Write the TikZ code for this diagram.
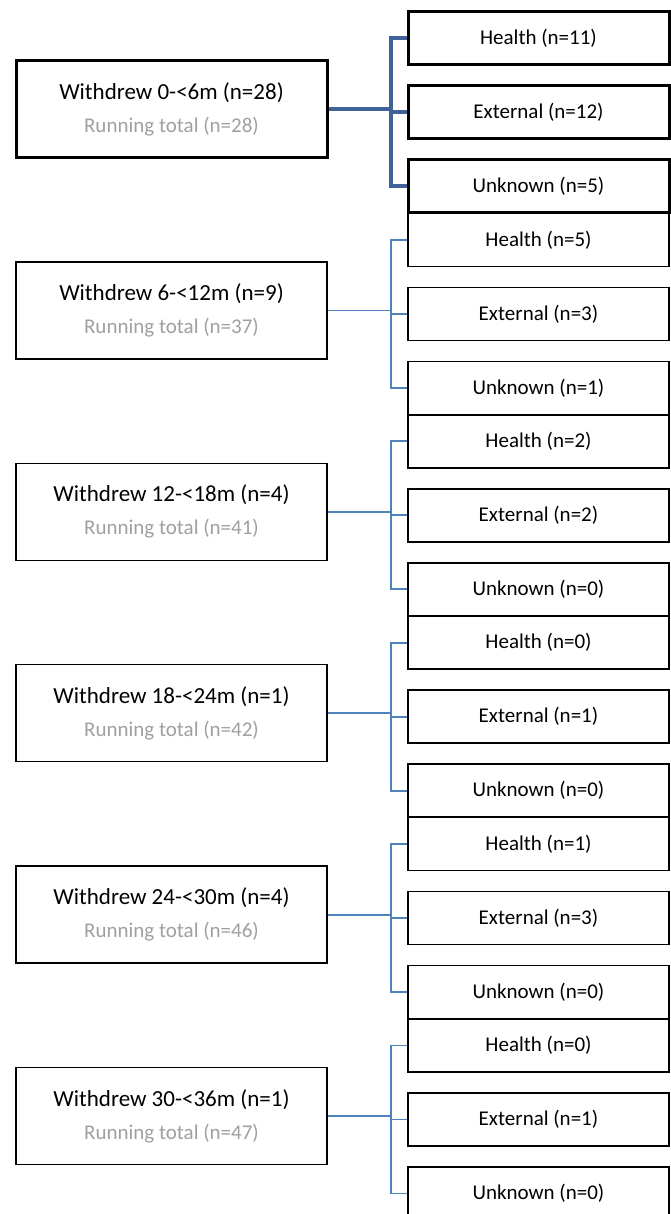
\documentclass[tikz,border=0pt]{standalone}
\usepackage{fontspec}
\setmainfont{Carlito}
\definecolor{linkdark}{HTML}{3F6399}
\definecolor{linkblue}{HTML}{4F81BD}
\definecolor{runninggray}{HTML}{A0A0A0}
\tikzset{
  leftbox/.style={draw=black, line width=1.5pt, fill=white, minimum width=311pt, minimum height=97pt, inner sep=0pt, align=center, font=\fontsize{23}{33}\selectfont},
  rightbox/.style={draw=black, line width=1.5pt, fill=white, minimum width=261pt, minimum height=53pt, inner sep=0pt, font=\fontsize{21}{24}\selectfont},
  heavy/.style={line width=3pt},
  link/.style={draw=linkblue, line width=1.8pt},
  heavylink/.style={draw=linkdark, line width=4pt},
}
\newcommand{\rtotal}[1]{{\fontsize{21}{33}\selectfont\color{runninggray}Running total (n=#1)}}
\begin{document}
\begin{tikzpicture}[x=1pt,y=-1pt]
\useasboundingbox (0,0) rectangle (671,1214);
\clip (0,0) rectangle (671,1214);
% group 1
\node[leftbox,heavy] (L1) at (171.5,109) {Withdrew 0-<6m (n=28)\\\rtotal{28}};
\node[rightbox,heavy] (H1) at (538.5,38.5) {Health (n=11)};
\node[rightbox,heavy] (E1) at (538.5,112.5) {External (n=12)};
\node[rightbox,heavy] (U1) at (538.5,186.5) {Unknown (n=5)};
\coordinate (J1) at (391,109);
\draw[heavylink] (L1.east) -- (J1);
\draw[heavylink] (H1.west) -| (J1) |- (U1.west);
\draw[heavylink] (J1 |- E1.west) -- (E1.west);
% group 2
\node[leftbox] (L2) at (171.5,310.4) {Withdrew 6-<12m (n=9)\\\rtotal{37}};
\node[rightbox] (H2) at (538.5,239.9) {Health (n=5)};
\node[rightbox] (E2) at (538.5,313.9) {External (n=3)};
\node[rightbox] (U2) at (538.5,387.9) {Unknown (n=1)};
\coordinate (J2) at (391,310.4);
\draw[link] (L2.east) -- (J2);
\draw[link] (H2.west) -| (J2) |- (U2.west);
\draw[link] (J2 |- E2.west) -- (E2.west);
% group 3
\node[leftbox] (L3) at (171.5,511.8) {Withdrew 12-<18m (n=4)\\\rtotal{41}};
\node[rightbox] (H3) at (538.5,441.3) {Health (n=2)};
\node[rightbox] (E3) at (538.5,515.3) {External (n=2)};
\node[rightbox] (U3) at (538.5,589.3) {Unknown (n=0)};
\coordinate (J3) at (391,511.8);
\draw[link] (L3.east) -- (J3);
\draw[link] (H3.west) -| (J3) |- (U3.west);
\draw[link] (J3 |- E3.west) -- (E3.west);
% group 4
\node[leftbox] (L4) at (171.5,713.2) {Withdrew 18-<24m (n=1)\\\rtotal{42}};
\node[rightbox] (H4) at (538.5,642.7) {Health (n=0)};
\node[rightbox] (E4) at (538.5,716.7) {External (n=1)};
\node[rightbox] (U4) at (538.5,790.7) {Unknown (n=0)};
\coordinate (J4) at (391,713.2);
\draw[link] (L4.east) -- (J4);
\draw[link] (H4.west) -| (J4) |- (U4.west);
\draw[link] (J4 |- E4.west) -- (E4.west);
% group 5
\node[leftbox] (L5) at (171.5,914.6) {Withdrew 24-<30m (n=4)\\\rtotal{46}};
\node[rightbox] (H5) at (538.5,844.1) {Health (n=1)};
\node[rightbox] (E5) at (538.5,918.1) {External (n=3)};
\node[rightbox] (U5) at (538.5,992.1) {Unknown (n=0)};
\coordinate (J5) at (391,914.6);
\draw[link] (L5.east) -- (J5);
\draw[link] (H5.west) -| (J5) |- (U5.west);
\draw[link] (J5 |- E5.west) -- (E5.west);
% group 6
\node[leftbox] (L6) at (171.5,1116) {Withdrew 30-<36m (n=1)\\\rtotal{47}};
\node[rightbox] (H6) at (538.5,1045.5) {Health (n=0)};
\node[rightbox] (E6) at (538.5,1119.5) {External (n=1)};
\node[rightbox] (U6) at (538.5,1193.5) {Unknown (n=0)};
\coordinate (J6) at (391,1116);
\draw[link] (L6.east) -- (J6);
\draw[link] (H6.west) -| (J6) |- (U6.west);
\draw[link] (J6 |- E6.west) -- (E6.west);
\end{tikzpicture}
\end{document}
